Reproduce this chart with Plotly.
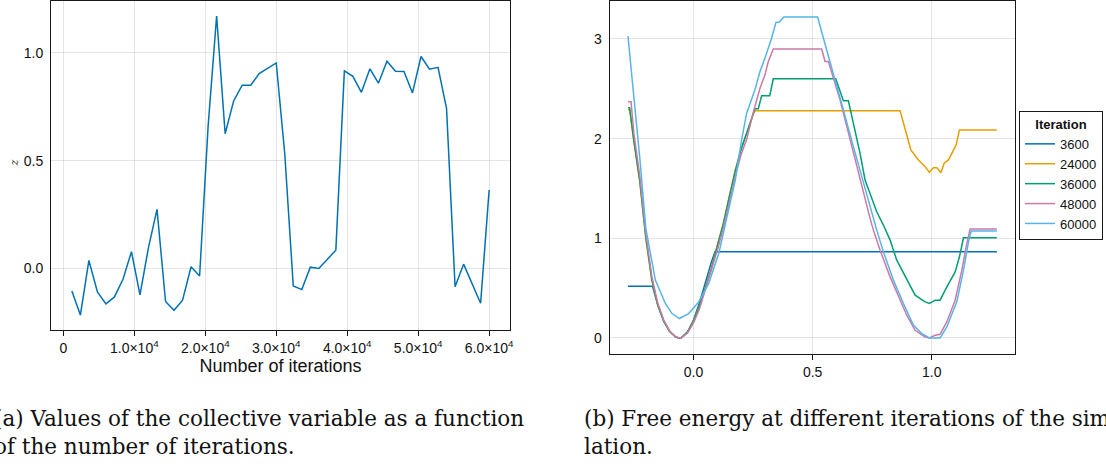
import plotly.graph_objects as go

# ---- collective variable trace -------------------------------------------
iterations = [1200 * k for k in range(1, 51)]
cv_values = [
    -0.104, -0.216, 0.037, -0.109, -0.164, -0.132, -0.050, 0.078, -0.122, 0.098,
    0.274, -0.153, -0.194, -0.147, 0.008, -0.035, 0.660, 1.171, 0.625, 0.777,
    0.850, 0.850, 0.904, 0.930, 0.953, 0.532, -0.081, -0.098, 0.006, 0.000,
    0.043, 0.085, 0.916, 0.891, 0.817, 0.926, 0.859, 0.961, 0.915, 0.913,
    0.814, 0.983, 0.924, 0.933, 0.741, -0.085, 0.020, -0.073, -0.161, 0.364,
]
iter_tickvals = [0, 10000, 20000, 30000, 40000, 50000, 60000]
iter_ticktext = ["0", "1.0×10<sup>4</sup>", "2.0×10<sup>4</sup>", "3.0×10<sup>4</sup>",
                 "4.0×10<sup>4</sup>", "5.0×10<sup>4</sup>", "6.0×10<sup>4</sup>"]

# ---- free energy profiles --------------------------------------------------
fe_labels = ["3600", "24000", "36000", "48000", "60000"]
fe_colors = ["#0072B2", "#E69F00", "#009E73", "#CC79A7", "#56B4E9"]

x_3600 = [-0.275, -0.172, -0.15, -0.125, -0.1, -0.075, -0.062, -0.05, -0.025, 0.0,
          0.025, 0.05, 0.075, 0.09, 1.273]
f_3600 = [0.52, 0.52, 0.33, 0.17, 0.065, 0.01, 0.0, 0.005, 0.06, 0.18,
          0.35, 0.56, 0.76, 0.864, 0.864]

x_24000 = [-0.275, -0.268, -0.25, -0.225, -0.2, -0.175, -0.15, -0.125, -0.1, -0.075,
           -0.062, -0.05, -0.025, 0.0, 0.025, 0.05, 0.075, 0.1, 0.125, 0.15,
           0.175, 0.2, 0.225, 0.25, 0.258, 0.867, 0.895, 0.912, 0.944, 0.972,
           0.99, 1.007, 1.021, 1.038, 1.052, 1.07, 1.102, 1.116, 1.273]
f_24000 = [2.29, 2.29, 1.97, 1.56, 1.0, 0.58, 0.33, 0.17, 0.065, 0.01,
           0.0, 0.005, 0.06, 0.17, 0.32, 0.52, 0.70, 0.93, 1.15, 1.42,
           1.68, 1.90, 2.08, 2.24, 2.28, 2.28, 2.037, 1.886, 1.786, 1.719,
           1.662, 1.709, 1.709, 1.658, 1.753, 1.786, 1.937, 2.087, 2.087]

x_36000 = [-0.275, -0.268, -0.25, -0.225, -0.2, -0.175, -0.15, -0.125, -0.1, -0.075,
           -0.062, -0.05, -0.025, 0.0, 0.025, 0.05, 0.075, 0.1, 0.125, 0.15,
           0.175, 0.2, 0.225, 0.25, 0.258, 0.272, 0.286, 0.320, 0.335, 0.597,
           0.629, 0.650, 0.699, 0.720, 0.741, 0.769, 0.797, 0.825, 0.853, 0.881,
           0.909, 0.930, 0.972, 0.990, 1.014, 1.035, 1.056, 1.098, 1.116, 1.133,
           1.273]
f_36000 = [2.31, 2.31, 1.98, 1.57, 1.01, 0.59, 0.335, 0.172, 0.066, 0.01,
           0.0, 0.005, 0.058, 0.165, 0.315, 0.51, 0.69, 0.92, 1.14, 1.41,
           1.67, 1.89, 2.07, 2.23, 2.30, 2.30, 2.43, 2.43, 2.60, 2.60,
           2.38, 2.38, 1.853, 1.585, 1.451, 1.266, 1.133, 0.982, 0.781, 0.647,
           0.530, 0.429, 0.362, 0.346, 0.379, 0.379, 0.479, 0.663, 0.814, 1.005,
           1.005]

x_48000 = [-0.275, -0.262, -0.25, -0.225, -0.2, -0.175, -0.15, -0.125, -0.1, -0.075,
           -0.062, -0.05, -0.025, 0.0, 0.025, 0.05, 0.075, 0.1, 0.125, 0.15,
           0.175, 0.2, 0.223, 0.25, 0.279, 0.300, 0.314, 0.335, 0.538, 0.552,
           0.566, 0.615, 0.657, 0.702, 0.741, 0.755, 0.783, 0.825, 0.867, 0.895,
           0.930, 0.972, 0.990, 1.014, 1.035, 1.063, 1.098, 1.126, 1.147, 1.161,
           1.273]
f_48000 = [2.37, 2.37, 2.05, 1.62, 1.05, 0.62, 0.35, 0.18, 0.07, 0.012,
           0.0, 0.004, 0.05, 0.15, 0.29, 0.48, 0.67, 0.88, 1.10, 1.36,
           1.62, 1.84, 1.99, 2.255, 2.506, 2.64, 2.774, 2.90, 2.90, 2.774,
           2.774, 2.39, 1.987, 1.585, 1.20, 1.082, 0.881, 0.613, 0.379, 0.228,
           0.077, 0.01, 0.0, 0.027, 0.037, 0.161, 0.379, 0.68, 0.949, 1.092,
           1.092]

x_60000 = [-0.275, -0.25, -0.225, -0.2, -0.16, -0.118, -0.09, -0.059, -0.02, 0.022,
           0.064, 0.106, 0.141, 0.175, 0.203, 0.223, 0.258, 0.279, 0.300, 0.328,
           0.346, 0.360, 0.379, 0.521, 0.545, 0.573, 0.601, 0.629, 0.671, 0.710,
           0.741, 0.769, 0.797, 0.839, 0.881, 0.923, 0.958, 0.990, 1.035, 1.063,
           1.105, 1.133, 1.154, 1.165, 1.273]
f_60000 = [3.03, 2.42, 1.80, 1.10, 0.58, 0.346, 0.245, 0.195, 0.245, 0.362,
           0.547, 0.848, 1.216, 1.58, 2.0, 2.255, 2.49, 2.673, 2.81, 3.01,
           3.166, 3.17, 3.22, 3.22, 3.01, 2.774, 2.523, 2.289, 1.92, 1.585,
           1.317, 1.082, 0.864, 0.58, 0.346, 0.128, 0.044, 0.0, 0.0, 0.11,
           0.362, 0.68, 0.965, 1.072, 1.072]

fe_x = [x_3600, x_24000, x_36000, x_48000, x_60000]
fe_y = [f_3600, f_24000, f_36000, f_48000, f_60000]

W, H = 1106, 464
SANS = "Liberation Sans, Arial, sans-serif"
SERIF = "DejaVu Serif, serif"
GRID = "rgba(0,0,0,0.10)"
FRAME = "#1a1a1a"


def padded(lo, hi, frac=0.05):
    pad = (hi - lo) * frac
    return [lo - pad, hi + pad]


fig = go.Figure()

fig.add_trace(go.Scatter(
    x=iterations, y=cv_values, mode="lines",
    line=dict(color="#0072B2", width=1.5),
    showlegend=False, xaxis="x", yaxis="y",
))

for xs, ys, name, col in zip(fe_x, fe_y, fe_labels, fe_colors):
    fig.add_trace(go.Scatter(
        x=xs, y=ys, mode="lines", name=name,
        line=dict(color=col, width=1.5),
        xaxis="x2", yaxis="y2",
    ))

all_fe_x = [v for xs in fe_x for v in xs]
all_fe_y = [v for ys in fe_y for v in ys]

axis_common = dict(
    showgrid=True, gridcolor=GRID, gridwidth=1,
    showline=True, linecolor=FRAME, linewidth=1, mirror=True,
    zeroline=False, automargin=False,
    tickfont=dict(family=SANS, size=14, color="#111"),
)

fig.update_layout(
    width=W, height=H,
    margin=dict(l=0, r=0, t=0, b=0, autoexpand=False),
    paper_bgcolor="white", plot_bgcolor="white",
    xaxis=dict(
        domain=[51 / W, 510 / W], anchor="y",
        range=padded(min(iterations), max(iterations)),
        tickmode="array", tickvals=iter_tickvals, ticktext=iter_ticktext,
        ticks="outside", ticklen=5, tickcolor=FRAME,
        title=dict(text="Number of iterations",
                   font=dict(family=SANS, size=18, color="#111"), standoff=4),
        **axis_common,
    ),
    yaxis=dict(
        domain=[1 - 330 / H, 1 - 1 / H], anchor="x",
        range=padded(min(cv_values), max(cv_values)),
        tickmode="array", tickvals=[0, 0.5, 1.0], ticktext=["0.0", "0.5", "1.0"],
        ticks="outside", ticklen=4, tickcolor="rgba(0,0,0,0)",
        **axis_common,
    ),
    xaxis2=dict(
        domain=[609.5 / W, 1015.3 / W], anchor="y2",
        range=padded(min(all_fe_x), max(all_fe_x)),
        tickmode="array", tickvals=[0, 0.5, 1.0], ticktext=["0.0", "0.5", "1.0"],
        ticks="outside", ticklen=5, tickcolor=FRAME,
        **axis_common,
    ),
    yaxis2=dict(
        domain=[1 - 354 / H, 1 - 1 / H], anchor="x2",
        range=padded(min(all_fe_y), max(all_fe_y)),
        tickmode="array", tickvals=[0, 1, 2, 3], ticktext=["0", "1", "2", "3"],
        ticks="outside", ticklen=4, tickcolor="rgba(0,0,0,0)",
        **axis_common,
    ),
    legend=dict(
        x=1103 / W, y=1 - 111 / H, xanchor="right", yanchor="top",
        bordercolor=FRAME, borderwidth=1, bgcolor="white",
        font=dict(family=SANS, size=13, color="#111"),
        title=dict(text="<b>Iteration</b>", side="top center",
                   font=dict(family=SANS, size=13, color="#111")),
        itemwidth=30, tracegroupgap=0,
    ),
    showlegend=True,
)

# italic axis symbol for the collective variable
fig.add_annotation(
    x=6 / W, y=1 - 163 / H, xref="paper", yref="paper",
    text="<i>z</i>", showarrow=False, textangle=-90,
    font=dict(family="DejaVu Serif, serif", size=11, color="#333"),
)

# sub-figure captions
captions = [
    (-8, 418, "(a) Values of the collective variable as a function"),
    (-8, 446, "of the number of iterations."),
    (582, 418, "(b) Free energy at different iterations of the simu-"),
    (582, 446, "lation."),
]
for px, py, txt in captions:
    fig.add_annotation(
        x=px / W, y=1 - py / H, xref="paper", yref="paper",
        xanchor="left", yanchor="middle", showarrow=False, text=txt,
        font=dict(family=SERIF, size=21.5, color="#111"),
    )

fig.write_html("out.html")
